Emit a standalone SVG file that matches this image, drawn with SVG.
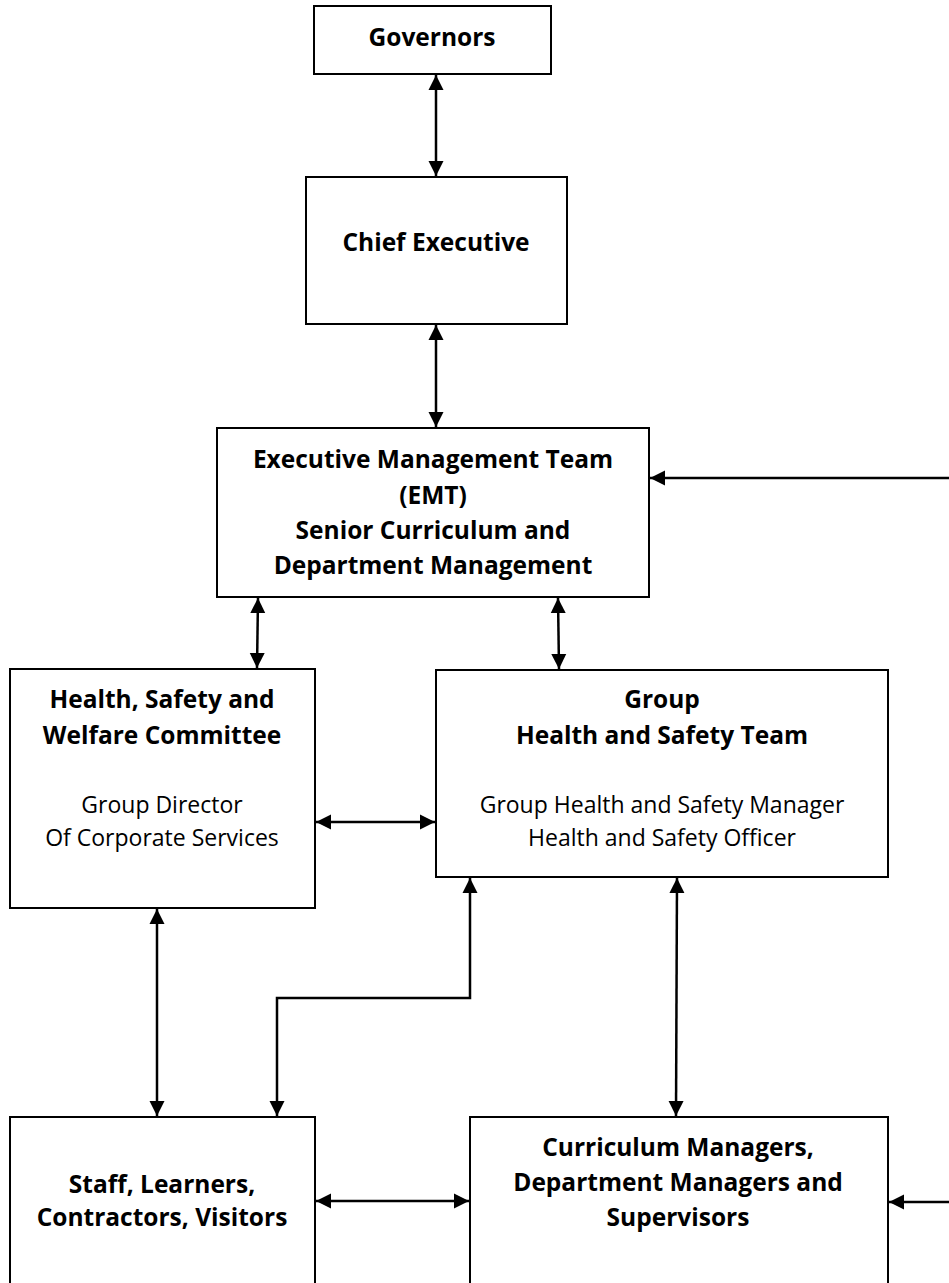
<svg xmlns="http://www.w3.org/2000/svg" width="949" height="1283" viewBox="0 0 949 1283">
<defs>
<marker id="ah" viewBox="0 0 15 16" refX="15" refY="8" markerWidth="15" markerHeight="16" markerUnits="userSpaceOnUse" orient="auto-start-reverse">
<path d="M0,0.5 L15,8 L0,15.5 Z" fill="#000"/>
</marker>
<style>
.box{fill:#fff;stroke:#000;stroke-width:2}
.b{font-family:"Open Sans","Liberation Sans",sans-serif;font-weight:bold;font-size:24.5px;text-anchor:middle;fill:#000}
.r{font-family:"Open Sans","Liberation Sans",sans-serif;font-size:23px;text-anchor:middle;fill:#000}
.c{fill:none;stroke:#000;stroke-width:2.5;marker-start:url(#ah);marker-end:url(#ah)}
.c1{fill:none;stroke:#000;stroke-width:2.5;marker-end:url(#ah)}
</style>
</defs>
<rect width="949" height="1283" fill="#fff"/>
<g id="connectors">
<line class="c" x1="436" y1="75" x2="436" y2="176"/>
<line class="c" x1="436" y1="325" x2="436" y2="427"/>
<line class="c1" x1="949" y1="478" x2="650" y2="478"/>
<line class="c" x1="258" y1="598" x2="257" y2="668"/>
<line class="c" x1="558" y1="598" x2="559" y2="669"/>
<line class="c" x1="316" y1="822" x2="435" y2="822"/>
<line class="c" x1="157" y1="909" x2="157" y2="1116"/>
<polyline class="c" points="470,878 470,998 277,998 277,1116"/>
<line class="c" x1="677" y1="878" x2="676" y2="1116"/>
<line class="c" x1="316" y1="1201" x2="469" y2="1201"/>
<line class="c1" x1="949" y1="1202" x2="889" y2="1202"/>
</g>
<g id="governors">
<rect class="box" x="314" y="6" width="237" height="68"/>
<text class="b" x="432" y="46">Governors</text>
</g>
<g id="chief-executive">
<rect class="box" x="306" y="177" width="261" height="147"/>
<text class="b" x="436" y="251">Chief Executive</text>
</g>
<g id="emt">
<rect class="box" x="217" y="428" width="432" height="169"/>
<text class="b" x="433" y="468">Executive Management Team</text>
<text class="b" x="433" y="504">(EMT)</text>
<text class="b" x="433" y="539">Senior Curriculum and</text>
<text class="b" x="433" y="574">Department Management</text>
</g>
<g id="hswc">
<rect class="box" x="10" y="669" width="305" height="239"/>
<text class="b" x="162" y="708">Health, Safety and</text>
<text class="b" x="162" y="744">Welfare Committee</text>
<text class="r" x="162" y="813">Group Director</text>
<text class="r" x="162" y="846">Of Corporate Services</text>
</g>
<g id="ghst">
<rect class="box" x="436" y="670" width="452" height="207"/>
<text class="b" x="662" y="708">Group</text>
<text class="b" x="662" y="744">Health and Safety Team</text>
<text class="r" x="662" y="813">Group Health and Safety Manager</text>
<text class="r" x="662" y="846">Health and Safety Officer</text>
</g>
<g id="staff">
<rect class="box" x="10" y="1117" width="305" height="180"/>
<text class="b" x="162" y="1193">Staff, Learners,</text>
<text class="b" x="162" y="1226">Contractors, Visitors</text>
</g>
<g id="curriculum">
<rect class="box" x="470" y="1117" width="418" height="180"/>
<text class="b" x="678" y="1156">Curriculum Managers,</text>
<text class="b" x="678" y="1191">Department Managers and</text>
<text class="b" x="678" y="1226">Supervisors</text>
</g>
</svg>
